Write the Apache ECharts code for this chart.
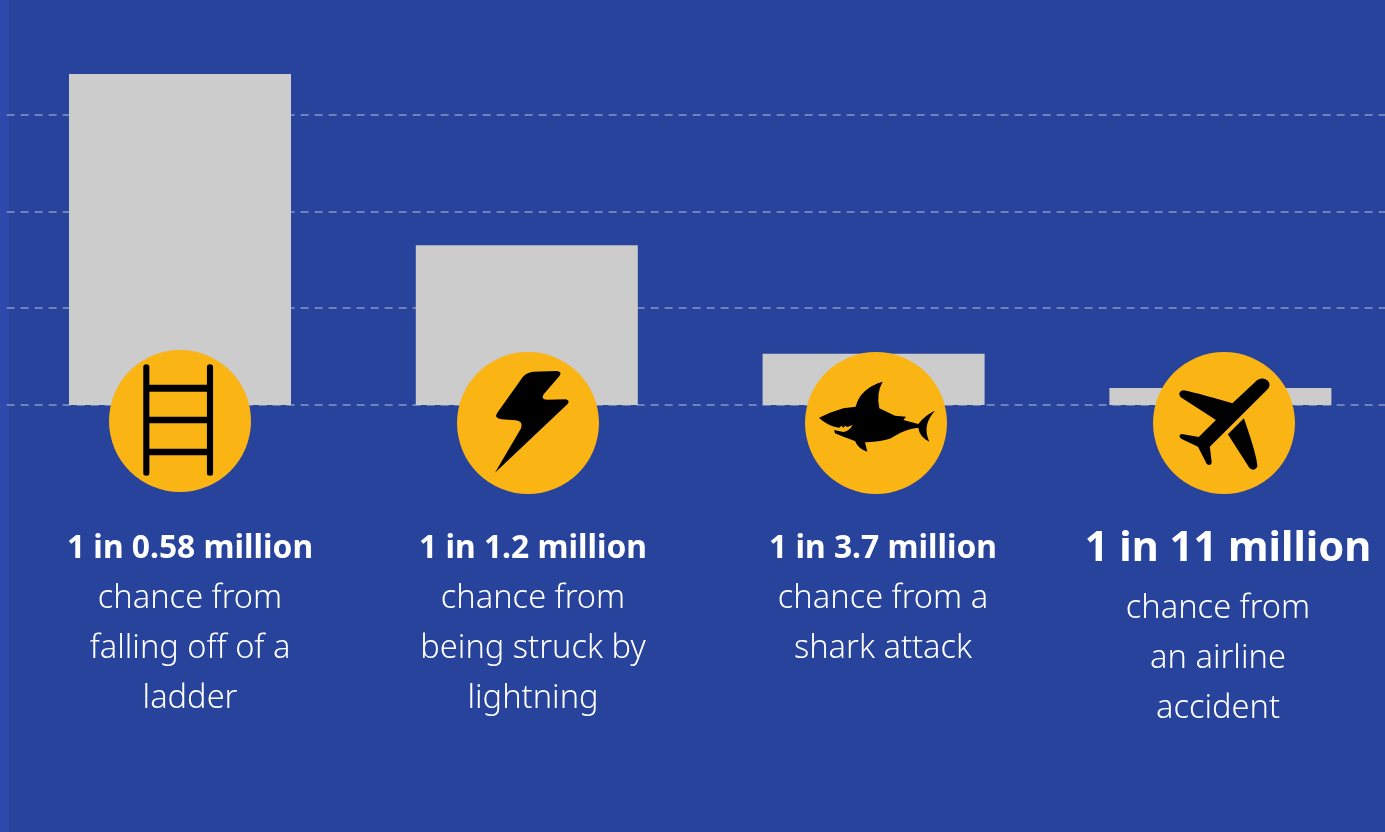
<!DOCTYPE html>
<html>
<head>
<meta charset="utf-8">
<style>html,body{margin:0;padding:0;background:#28439b;overflow:hidden}#c{width:1385px;height:832px}</style>
<script src="https://cdn.jsdelivr.net/npm/echarts@6/dist/echarts.min.js"></script>
</head>
<body>
<div id="c"></div>
<script>
// Data
const categories = ['ladder', 'lightning', 'shark', 'airline'];
const chancePerMillion = [1.71, 0.825, 0.265, 0.088];
const headlines = ['1 in 0.58 million', '1 in 1.2 million', '1 in 3.7 million', '1 in 11 million'];
const descriptions = [
  ['chance from', 'falling off of a', 'ladder'],
  ['chance from', 'being struck by', 'lightning'],
  ['chance from a', 'shark attack'],
  ['chance from', 'an airline', 'accident']
];

// Layout and styling, kept apart from the data
const FONT = '"Noto Sans", sans-serif';
const badgeOffset = [[0, 16], [1.2, 18], [2.4, 18], [3.6, 18]];
const headOffsetX = [10, 6.2, 9.4, 7.6];
const textOffsetX = [10, 6.2, 9.4, -2.4];
const headSize = [31.8, 31.8, 31.8, 41.6];
const headY = [549, 549, 549, 549];
const firstLineY = [599, 599, 599, 609];
const LINE = 50;

// Icon outlines: traced in crop units (sx, sy = crop to page), scaled down on render
const icons = [
  { ox: 441, oy: 243, sx: 1 / 2.45, sy: 1 / 3, d:
    'M351 80a7.5 7.5 0 0 1 15 0V400a7.5 7.5 0 0 1 -15 0Z' +
    'M507 80a7.5 7.5 0 0 1 15 0V400a7.5 7.5 0 0 1 -15 0Z' +
    'M366 134H507V155H366Z M366 230H507V250H366Z M366 326H507V346H366Z' },
  { ox: 1293, oy: 249, sx: 1 / 2.45, sy: 1 / 3, d:
    'M1305 95L1362 93Q1378 95 1370 108L1332 162Q1322 178 1340 179L1385 178Q1397 181 1390 192' +
    'L1212 398L1276 265Q1282 243 1262 241L1228 238Q1210 235 1217 220L1275 120Q1285 98 1305 95Z' },
  { ox: 198, oy: 144, sx: 1 / 3, sy: 1 / 3, d:
    'M27 128L60 113L100 100L137 95Q150 40 218 20Q198 55 208 100L255 122L288 125L280 135L325 147' +
    'Q345 120 375 107Q335 150 358 200Q328 185 325 158Q285 162 250 185Q235 198 165 202L172 230Q145 222 135 198' +
    'L100 185L75 175L72 165L100 171Q118 168 128 150L112 156L106 152L100 158L94 152L88 158L80 157' +
    'Q50 150 27 128Z' },
  { ox: 1238, oy: 249, sx: 1 / 2.613, sy: 1 / 3, d:
    'M1325 120A16 16 0 0 1 1350 150L1201 320L1206 368Q1202 380 1193 372L1170 320L1126 296Q1116 286 1128 282L1172 291' +
    'L1217 240L1125 172Q1115 158 1130 151Q1150 153 1260 190Z' +
    'M1290 235Q1325 350 1325 380Q1318 395 1305 385L1248 283Z' }
];

const chart = echarts.init(document.getElementById('c'));
chart.setOption({
  backgroundColor: '#28439b',
  animation: false,
  graphic: [{ type: 'rect', z: -10, shape: { x: 0, y: 0, width: 9, height: 832 }, style: { fill: '#2e49ac' } }],
  grid: { left: 6.6, top: 17.96, width: 1387.2, height: 387.04, containLabel: false, outerBoundsMode: 'none' },
  xAxis: {
    type: 'category', data: categories,
    axisLine: { show: false }, axisTick: { show: false }, axisLabel: { show: false }
  },
  yAxis: {
    type: 'value', min: 0, max: 2, interval: 0.5,
    axisLine: { show: false }, axisTick: { show: false }, axisLabel: { show: false },
    splitLine: {
      show: true, showMaxLine: false,
      lineStyle: { color: '#7082bd', width: 2, type: [8, 6] }
    }
  },
  series: [
    {
      type: 'bar', data: chancePerMillion, barWidth: 222, z: 2,
      itemStyle: { color: '#cccccc' }
    },
    {
      type: 'custom', z: 3, clip: false, silent: true,
      data: categories.map((c, i) => [i, 0]),
      renderItem(params, api) {
        const i = params.dataIndex;
        const p = api.coord([api.value(0), api.value(1)]);
        const cx = p[0] + badgeOffset[i][0], cy = p[1] + badgeOffset[i][1];
        const ic = icons[i];
        const children = [
          { type: 'circle', shape: { cx, cy, r: 71 }, style: { fill: '#fab414' } },
          { type: 'path', x: cx - ic.ox * ic.sx, y: cy - ic.oy * ic.sy, scaleX: ic.sx, scaleY: ic.sy,
            shape: { pathData: ic.d }, style: { fill: '#000000' } }
        ];
        children.push({
          type: 'text', x: p[0] + headOffsetX[i], y: headY[i],
          style: { text: headlines[i], fill: '#fff', font: 'bold ' + headSize[i] + 'px ' + FONT, align: 'center', verticalAlign: 'middle' }
        });
        descriptions[i].forEach((t, k) => children.push({
          type: 'text', x: p[0] + textOffsetX[i], y: firstLineY[i] + k * LINE,
          style: { text: t, fill: '#fff', font: '300 32.6px ' + FONT, align: 'center', verticalAlign: 'middle' }
        }));
        return { type: 'group', children };
      }
    }
  ]
});
</script>
</body>
</html>
